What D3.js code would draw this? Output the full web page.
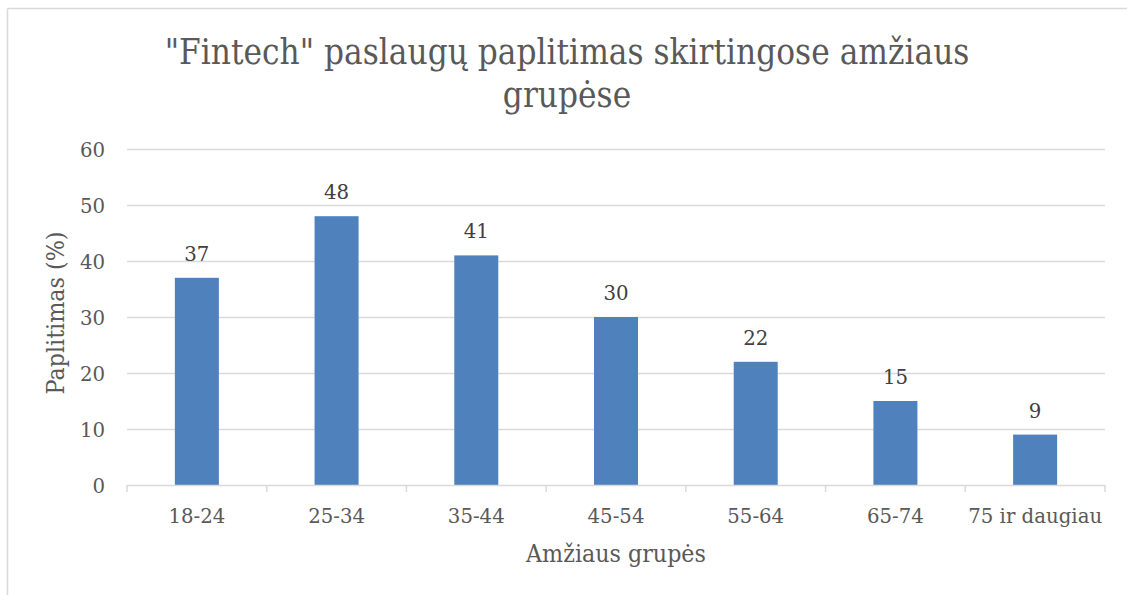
<!DOCTYPE html>
<html><head><meta charset="utf-8">
<script src="https://cdn.jsdelivr.net/npm/d3@7"></script>
<style>body{margin:0;background:#fff;}svg{display:block;}</style>
</head><body>
<svg id="c" width="1127" height="595"></svg>
<script>
const categories = ["18-24","25-34","35-44","45-54","55-64","65-74","75 ir daugiau"];
const values = [37,48,41,30,22,15,9];
const yTicks = [0,10,20,30,40,50,60];
const titleLines = ["\"Fintech\" paslaugų paplitimas skirtingose amžiaus","grupėse"];
const yTitle = "Paplitimas (%)";
const xTitle = "Amžiaus grupės";

(function(){
const svg = d3.select("#c");
const font = "DejaVu Serif";
const txt = "#595959";
const pL = 127, pR = 1105, pT = 149, pB = 485;
const CAP = 0.729;

function fitSize(str, targetW){
  const t = svg.append("text").attr("font-family",font).attr("font-size",100).text(str);
  const w = t.node().getComputedTextLength();
  t.remove();
  return 100*targetW/w;
}
const fsTick = fitSize("75 ir daugiau", 134);
const fsTitle = fitSize(titleLines[0], 805);
const fsAxis = fitSize(xTitle, 180);
const kTick = 15.3/(CAP*fsTick);
const kTitle = 26/(CAP*fsTitle);
const kAxis = 17.4/(CAP*fsAxis);

svg.append("line").attr("x1",7.5).attr("x2",1127).attr("y1",8.5).attr("y2",8.5).attr("stroke","#d9d9d9").attr("stroke-width",1.5);
svg.append("line").attr("x1",7.5).attr("x2",7.5).attr("y1",8.5).attr("y2",595).attr("stroke","#d9d9d9").attr("stroke-width",1.5);

const x = d3.scaleBand().domain(categories).range([pL,pR]).paddingInner(0.685).paddingOuter(0.3425);
const xb = d3.scaleBand().domain(categories).range([pL,pR]);
const y = d3.scaleLinear().domain([0,60]).range([pB,pT]);

svg.append("g").selectAll("line").data(yTicks.filter(d=>d>0)).join("line")
  .attr("x1",pL).attr("x2",pR).attr("y1",d=>y(d)+0.5).attr("y2",d=>y(d)+0.5)
  .attr("stroke","#d9d9d9").attr("stroke-width",1.3);

svg.append("g").selectAll("text").data(yTicks).join("text")
  .attr("transform",d=>`translate(105,${y(d)+8}) scale(1,${kTick})`).attr("text-anchor","end")
  .attr("font-family",font).attr("font-size",fsTick).attr("fill",txt).text(d=>d);

svg.append("g").selectAll("rect").data(values).join("rect")
  .attr("x",(d,i)=>x(categories[i])).attr("width",x.bandwidth())
  .attr("y",d=>y(d)).attr("height",d=>pB-y(d)).attr("fill","#4f81bd");

svg.append("g").selectAll("text").data(values).join("text")
  .attr("transform",(d,i)=>`translate(${x(categories[i])+x.bandwidth()/2},${y(d)-17}) scale(1,${kTick})`)
  .attr("text-anchor","middle").attr("font-family",font).attr("font-size",fsTick).attr("fill","#404040").text(d=>d);

const xa = svg.append("g").attr("transform",`translate(0,${pB})`)
  .call(d3.axisBottom(xb).tickSize(0).tickFormat(""));
xa.select(".domain").remove();
svg.append("line").attr("x1",pL).attr("x2",pR).attr("y1",pB+0.5).attr("y2",pB+0.5).attr("stroke","#d9d9d9").attr("stroke-width",1.5);
const bounds = categories.map(c=>xb(c)).concat([pR]);
svg.append("g").selectAll("line").data(bounds).join("line")
  .attr("x1",d=>d).attr("x2",d=>d).attr("y1",pB).attr("y2",pB+7)
  .attr("stroke","#d9d9d9").attr("stroke-width",1.5);
svg.append("g").selectAll("text").data(categories).join("text")
  .attr("transform",d=>`translate(${xb(d)+xb.bandwidth()/2},523) scale(1,${kTick})`).attr("text-anchor","middle")
  .attr("font-family",font).attr("font-size",fsTick).attr("fill",txt).text(d=>d);

svg.append("text").attr("transform",`translate(616,562) scale(1,${kAxis})`).attr("text-anchor","middle")
  .attr("font-family",font).attr("font-size",fsAxis).attr("fill",txt).text(xTitle);
svg.append("text").attr("transform",`translate(64,313) rotate(-90) scale(1,${kAxis})`).attr("text-anchor","middle")
  .attr("font-family",font).attr("font-size",fsAxis).attr("fill",txt).text(yTitle);

svg.append("g").selectAll("text").data(titleLines).join("text")
  .attr("transform",(d,i)=>`translate(567,${64+i*43}) scale(1,${kTitle})`).attr("text-anchor","middle")
  .attr("font-family",font).attr("font-size",fsTitle).attr("fill",txt).text(d=>d);
})();
</script>
</body></html>
